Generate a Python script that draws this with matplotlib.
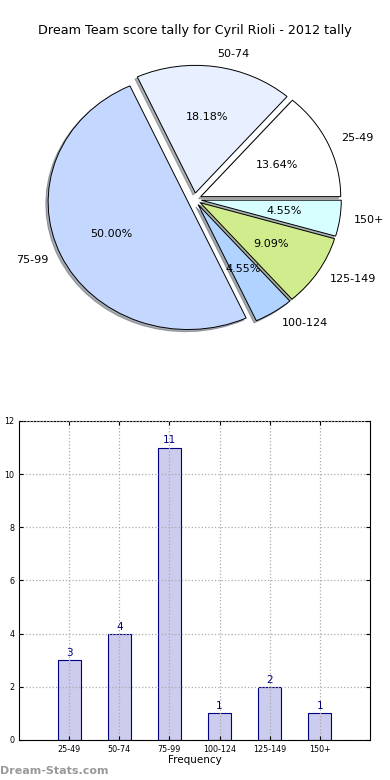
import matplotlib
matplotlib.use("Agg")
import matplotlib.pyplot as plt

labels = ["25-49", "50-74", "75-99", "100-124", "125-149", "150+"]
counts = [3, 4, 11, 1, 2, 1]
pie_colors = ["#ffffff", "#e8f0ff", "#c4d8ff", "#b0d4ff", "#d0ec8c", "#d8ffff"]

fig = plt.figure(figsize=(3.9, 7.8), dpi=100)

# pie
ax1 = fig.add_axes([0.05, 0.54, 0.897, 0.409])
ax1.pie(counts, labels=labels, colors=pie_colors, autopct="%1.2f%%",
        explode=[0.05] * len(counts), shadow={"ox": -0.012, "oy": -0.012, "shade": 0.6},
        startangle=0,
        wedgeprops={"edgecolor": "black", "linewidth": 0.7},
        textprops={"fontsize": 8})
ax1.set_aspect("auto")
ax1.set_xlim(-1.25, 1.25)
ax1.set_ylim(-1.25, 1.25)
fig.text(0.5, 0.961, "Dream Team score tally for Cyril Rioli - 2012 tally",
         ha="center", va="center", fontsize=9.2)

# bars
ax2 = fig.add_axes([0.0487, 0.0513, 0.9, 0.409])
x = list(range(len(labels)))
bars = ax2.bar(x, counts, width=0.46, color="#ccccee", edgecolor="navy", linewidth=0.8, zorder=2)
for xi, c in zip(x, counts):
    ax2.text(xi, c + 0.08, str(c), ha="center", va="bottom", color="navy", fontsize=7.5)
ax2.set_xlim(-1, 6)
ax2.set_ylim(0, 12)
ax2.set_yticks(range(0, 13, 2))
ax2.set_xticks(x)
ax2.set_xticklabels(labels)
ax2.tick_params(labelsize=5.8, length=3, direction="in", top=True, right=True)
ax2.grid(True, linestyle=":", color="#aaaaaa", linewidth=0.9, zorder=3)
ax2.set_axisbelow(False)
ax2.set_xlabel("Frequency", fontsize=7.5, labelpad=1)
ax2.set_ylabel("Score Interval", fontsize=7.5, labelpad=2)

fig.text(0.0, 0.012, "Dream-Stats.com", color="#999999", fontsize=8, fontweight="bold",
         ha="left", va="center")

fig.savefig("out.png", dpi=100)
